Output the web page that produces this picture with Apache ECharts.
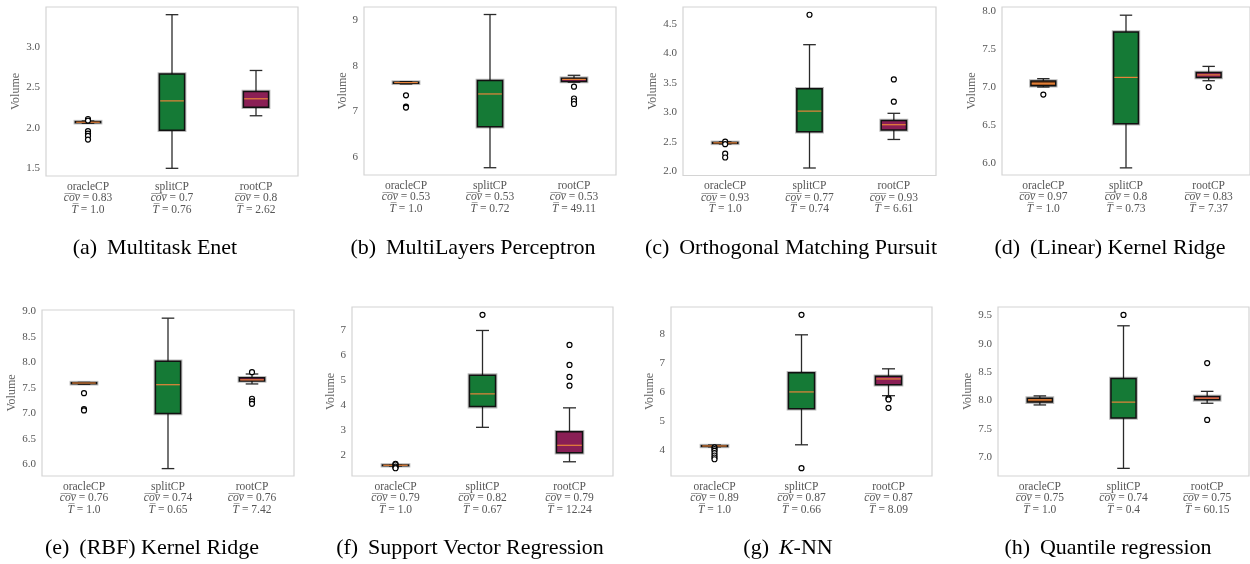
<!DOCTYPE html>
<html>
<head>
<meta charset="utf-8">
<script src="https://cdn.jsdelivr.net/npm/echarts@6/dist/echarts.min.js"></script>
<style>
html,body{margin:0;padding:0;background:#fff;}
#chart{width:1250px;height:564px;}
</style>
</head>
<body>
<div id="chart"></div>
<script>
// ---------- DATA ----------
const categories = ['oracleCP', 'splitCP', 'rootCP'];

// box stats per method: [min, Q1, median, Q3, max]
const boxA = [[2.058, 2.065, 2.07, 2.077, 2.085], [1.50, 1.971, 2.334, 2.667, 3.40], [2.15, 2.255, 2.36, 2.45, 2.71]];
const outA = [[2.11, 2.09, 1.96, 1.93, 1.90, 1.855], [], []];
const covA = ['0.83', '0.7', '0.8'];
const timeA = ['1.0', '0.76', '2.62'];
const ticksA = ['1.5', '2.0', '2.5', '3.0'];
const limA = [1.405, 3.495];

const boxB = [[7.60, 7.615, 7.63, 7.64, 7.65], [5.76, 6.66, 7.38, 7.676, 9.125], [7.64, 7.655, 7.70, 7.726, 7.79]];
const outB = [[7.35, 7.10, 7.08], [], [7.54, 7.28, 7.22, 7.16]];
const covB = ['0.53', '0.53', '0.53'];
const timeB = ['1.0', '0.72', '49.11'];
const ticksB = ['6', '7', '8', '9'];
const limB = [5.6, 9.29];

const boxC = [[2.465, 2.475, 2.483, 2.49, 2.50], [2.057, 2.67, 3.02, 3.40, 4.145], [2.54, 2.70, 2.79, 2.86, 2.983]];
const outC = [[2.505, 2.46, 2.30, 2.235], [4.652], [3.557, 3.18]];
const covC = ['0.93', '0.77', '0.93'];
const timeC = ['1.0', '0.74', '6.61'];
const ticksC = ['2.0', '2.5', '3.0', '3.5', '4.0', '4.5'];
const limC = [1.93, 4.783];

const boxD = [[7.0, 7.017, 7.044, 7.08, 7.11], [5.934, 6.516, 7.127, 7.724, 7.947], [7.083, 7.127, 7.16, 7.19, 7.272]];
const outD = [[6.90], [], [7.0]];
const covD = ['0.97', '0.8', '0.83'];
const timeD = ['1.0', '0.73', '7.37'];
const ticksD = ['6.0', '6.5', '7.0', '7.5', '8.0'];
const limD = [5.84, 8.055];

const boxE = [[7.575, 7.585, 7.598, 7.605, 7.61], [5.92, 7.0, 7.565, 8.026, 8.87], [7.58, 7.64, 7.66, 7.70, 7.775]];
const outE = [[7.40, 7.085, 7.06], [], [7.81, 7.29, 7.24, 7.19]];
const covE = ['0.76', '0.74', '0.76'];
const timeE = ['1.0', '0.65', '7.42'];
const ticksE = ['6.0', '6.5', '7.0', '7.5', '8.0', '8.5', '9.0'];
const limE = [5.775, 9.03];

const boxF = [[1.57, 1.585, 1.60, 1.61, 1.62], [3.12, 3.95, 4.46, 5.21, 7.0], [1.74, 2.10, 2.40, 2.94, 3.90]];
const outF = [[1.66, 1.63, 1.55, 1.51, 1.48], [7.628], [6.42, 5.62, 5.14, 4.79]];
const covF = ['0.79', '0.82', '0.79'];
const timeF = ['1.0', '0.67', '12.24'];
const ticksF = ['2', '3', '4', '5', '6', '7'];
const limF = [1.17, 7.94];

const boxG = [[4.10, 4.115, 4.13, 4.14, 4.16], [4.17, 5.42, 6.0, 6.66, 7.977], [5.87, 6.25, 6.45, 6.54, 6.80]];
const outG = [[4.08, 4.02, 3.96, 3.88, 3.80, 3.73, 3.67], [8.67, 3.36], [5.78, 5.74, 5.45]];
const covG = ['0.89', '0.87', '0.87'];
const timeG = ['1.0', '0.66', '8.09'];
const ticksG = ['4', '5', '6', '7', '8'];
const limG = [3.09, 8.94];

const boxH = [[7.92, 7.97, 8.01, 8.04, 8.08], [6.80, 7.69, 7.97, 8.387, 9.318], [7.95, 8.01, 8.04, 8.07, 8.16]];
const outH = [[], [9.51], [8.66, 7.655]];
const covH = ['0.75', '0.74', '0.75'];
const timeH = ['1.0', '0.4', '60.15'];
const ticksH = ['7.0', '7.5', '8.0', '8.5', '9.0', '9.5'];
const limH = [6.665, 9.65];

const captionTags = ['(a)', '(b)', '(c)', '(d)', '(e)', '(f)', '(g)', '(h)'];
const captionNames = ['Multitask Enet', 'MultiLayers Perceptron', 'Orthogonal Matching Pursuit', '(Linear) Kernel Ridge',
  '(RBF) Kernel Ridge', 'Support Vector Regression', 'K-NN', 'Quantile regression'];
const yName = 'Volume';

// ---------- LAYOUT / STYLE ----------
const panels = [
  {box: boxA, out: outA, cov: covA, time: timeA, ticks: ticksA, lim: limA},
  {box: boxB, out: outB, cov: covB, time: timeB, ticks: ticksB, lim: limB},
  {box: boxC, out: outC, cov: covC, time: timeC, ticks: ticksC, lim: limC},
  {box: boxD, out: outD, cov: covD, time: timeD, ticks: ticksD, lim: limD},
  {box: boxE, out: outE, cov: covE, time: timeE, ticks: ticksE, lim: limE},
  {box: boxF, out: outF, cov: covF, time: timeF, ticks: ticksF, lim: limF},
  {box: boxG, out: outG, cov: covG, time: timeG, ticks: ticksG, lim: limG},
  {box: boxH, out: outH, cov: covH, time: timeH, ticks: ticksH, lim: limH}
];
const gridRects = [
  [46, 7, 252, 169], [364, 7, 252, 168], [683, 7, 253, 168.5], [1002, 7, 252, 168],
  [42, 310, 252, 166], [352, 307, 261, 169], [671, 307, 261, 169], [998, 307, 251, 169]
];
const captionPos = [[155, 248], [473, 248], [791, 248], [1110, 248], [152, 548], [470, 548], [788, 548], [1108, 548]];
const boxFill = ['#8c4a1c', '#157a36', '#8a1f55'];
const serif = '"Liberation Serif", "DejaVu Serif", serif';
const gray = '#555555';
const OV = '\u0305';
const overline = s => s.split('').map(c => c + OV).join('');

function renderBox(params, api) {
  const i = api.value(0);
  const lo = api.coord([i, api.value(1)]);
  const q1 = api.coord([i, api.value(2)]);
  const md = api.coord([i, api.value(3)]);
  const q3 = api.coord([i, api.value(4)]);
  const hi = api.coord([i, api.value(5)]);
  const bw = api.size([1, 0])[0];
  const hw = bw * 0.15, cw = hw * 0.5, cx = lo[0];
  const wl = {stroke: '#2a2a2a', lineWidth: 1.3};
  const h = Math.max(q1[1] - q3[1], 0.5);
  return {
    type: 'group',
    children: [
      {type: 'line', shape: {x1: cx, y1: q3[1], x2: cx, y2: hi[1]}, style: wl},
      {type: 'line', shape: {x1: cx, y1: q1[1], x2: cx, y2: lo[1]}, style: wl},
      {type: 'line', shape: {x1: cx - cw, y1: hi[1], x2: cx + cw, y2: hi[1]}, style: wl},
      {type: 'line', shape: {x1: cx - cw, y1: lo[1], x2: cx + cw, y2: lo[1]}, style: wl},
      {type: 'rect', shape: {x: cx - hw, y: q3[1], width: 2 * hw, height: h},
        style: {fill: 'none', stroke: 'rgba(0,0,0,0.28)', lineWidth: 3.6}},
      {type: 'rect', shape: {x: cx - hw, y: q3[1], width: 2 * hw, height: h},
        style: {fill: boxFill[i], stroke: '#111111', lineWidth: 1.5}},
      {type: 'line', shape: {x1: cx - hw + 0.8, y1: md[1], x2: cx + hw - 0.8, y2: md[1]},
        style: {stroke: '#e8843a', lineWidth: 1.2}}
    ]
  };
}

const grid = [], xAxis = [], yAxis = [], series = [], graphic = [];
panels.forEach((p, k) => {
  const r = gridRects[k];
  grid.push({left: r[0], top: r[1], width: r[2], height: r[3], show: true,
    borderColor: '#d4d4d4', borderWidth: 1.2, backgroundColor: '#ffffff'});
  xAxis.push({
    type: 'category', gridIndex: k, data: categories, boundaryGap: true,
    axisLine: {show: false}, axisTick: {show: false}, splitLine: {show: false},
    axisLabel: {
      interval: 0, margin: 5,
      formatter: (v, idx) => '{n|' + v + '}\n{i|' + overline('cov') + '}{n| = ' + p.cov[idx] + '}\n{i|' + overline('T') + '}{n| = ' + p.time[idx] + '}',
      rich: {
        n: {fontFamily: serif, fontSize: 11.5, color: gray, lineHeight: 11.5},
        i: {fontFamily: serif, fontSize: 11.5, color: gray, lineHeight: 11.5, fontStyle: 'italic'}
      }
    }
  });
  const dec = (p.ticks[0].split('.')[1] || '').length;
  yAxis.push({
    type: 'value', gridIndex: k, min: p.lim[0], max: p.lim[1],
    name: yName, nameLocation: 'middle', nameRotate: 90,
    nameGap: dec ? 24 : 15,
    nameTextStyle: {fontFamily: serif, fontSize: 12, color: '#666666'},
    axisLine: {show: false}, axisTick: {show: false}, splitLine: {show: false},
    axisLabel: {
      customValues: p.ticks.map(Number), margin: 6,
      fontFamily: serif, fontSize: 11, color: gray,
      formatter: v => Number(v).toFixed(dec)
    }
  });
  series.push({
    type: 'custom', xAxisIndex: k, yAxisIndex: k,
    renderItem: renderBox, encode: {x: 0, y: [1, 2, 3, 4, 5]},
    data: p.box.map((b, i) => [i].concat(b)), z: 2
  });
  const pts = [];
  p.out.forEach((arr, i) => arr.forEach(v => pts.push([i, v])));
  series.push({
    type: 'scatter', xAxisIndex: k, yAxisIndex: k, data: pts, symbol: 'circle', symbolSize: 5,
    itemStyle: {color: '#ffffff', borderColor: '#000000', borderWidth: 1.2, opacity: 1},
    z: 5, silent: true
  });
  const nm = captionNames[k];
  let txt;
  if (nm.indexOf('K-') === 0) txt = '{n|' + captionTags[k] + '\u2009 }{it|K}{n|' + nm.slice(1) + '}';
  else txt = '{n|' + captionTags[k] + '\u2009 ' + nm + '}';
  graphic.push({
    type: 'text', x: captionPos[k][0], y: captionPos[k][1],
    style: {
      text: txt, align: 'center', verticalAlign: 'middle',
      rich: {
        n: {fontFamily: serif, fontSize: 22, fill: '#000', color: '#000'},
        it: {fontFamily: serif, fontSize: 22, fill: '#000', color: '#000', fontStyle: 'italic'}
      }
    }
  });
});

const chart = echarts.init(document.getElementById('chart'), null, {renderer: 'canvas'});
chart.setOption({
  animation: false,
  backgroundColor: '#ffffff',
  grid, xAxis, yAxis, series, graphic
});
</script>
</body>
</html>
